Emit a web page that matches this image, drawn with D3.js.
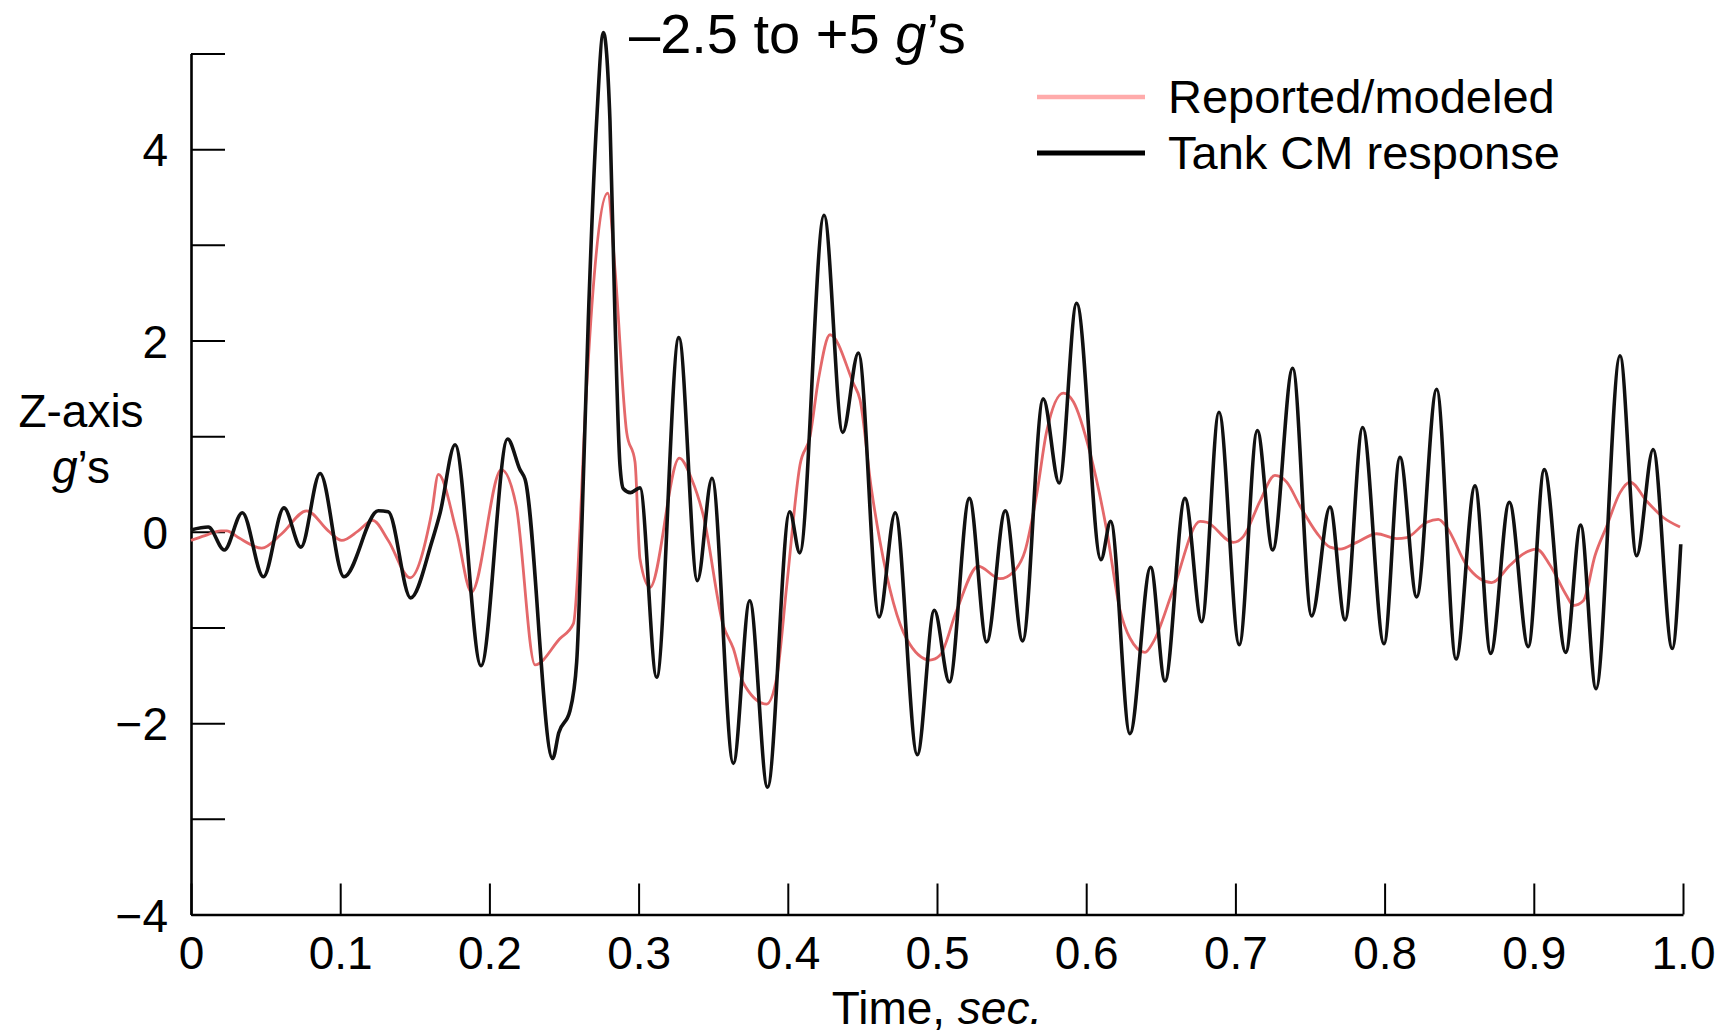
<!DOCTYPE html>
<html>
<head>
<meta charset="utf-8">
<script src="https://cdn.jsdelivr.net/npm/d3@7"></script>
<style>
  html, body { margin: 0; padding: 0; background: #fff; }
  svg { display: block; }
  text { font-family: "Liberation Sans", Arial, Helvetica, sans-serif; fill: #000; }
</style>
</head>
<body>
<svg id="chart" width="1731" height="1036"></svg>
<script>
// Reported/modeled Z-axis acceleration (time in s, value in g)
const modelTime = [0.000, 0.0094, 0.020, 0.024, 0.0317, 0.0474, 0.0608, 0.0775, 0.092, 0.101,
  0.1121, 0.1218, 0.1322, 0.1468, 0.1613, 0.1658, 0.178, 0.188, 0.208, 0.218,
  0.2306, 0.247, 0.2563, 0.2652, 0.269, 0.2793, 0.2842, 0.292, 0.2976, 0.3009,
  0.3076, 0.3273, 0.3356, 0.3434, 0.3568, 0.3635, 0.3702, 0.3858, 0.3926, 0.3993,
  0.4082, 0.4149, 0.4205, 0.4283, 0.4440, 0.4484, 0.456, 0.4618, 0.4797, 0.4953,
  0.502, 0.5132, 0.5277, 0.5422, 0.5512, 0.559, 0.5668, 0.5735, 0.5847, 0.5914,
  0.6025, 0.6137, 0.6227, 0.6293, 0.6394, 0.645, 0.6584, 0.6763, 0.6808, 0.6986,
  0.7053, 0.7165, 0.7265, 0.7344, 0.7433, 0.7545, 0.7634, 0.7701, 0.7813, 0.7947,
  0.8081, 0.8148, 0.8282, 0.836, 0.8416, 0.855, 0.8639, 0.8718, 0.884, 0.893,
  0.9019, 0.9109, 0.9221, 0.9265, 0.9332, 0.941, 0.9489, 0.9578, 0.9645, 0.9757,
  0.9868, 0.998];
const modelG = [-0.09, -0.04, 0.01, 0.01, -0.06, -0.17, -0.02, 0.22, 0.01, -0.09,
  0.01, 0.12, -0.09, -0.48, 0.20, 0.60, 0.00, -0.63, 0.65, 0.27,
  -1.39, -1.12, -0.96, 1.52, 2.43, 3.54, 2.74, 1.04, 0.73, -0.28,
  -0.58, 0.77, 0.55, 0.17, -0.98, -1.22, -1.58, -1.80, -1.52, -0.56,
  0.70, 1.00, 1.59, 2.06, 1.55, 1.38, 0.45, -0.10, -1.12, -1.34,
  -1.29, -0.82, -0.36, -0.49, -0.42, -0.20, 0.39, 1.05, 1.45, 1.36,
  0.83, 0.02, -0.82, -1.11, -1.26, -1.15, -0.60, 0.11, 0.10, -0.11,
  -0.05, 0.32, 0.59, 0.52, 0.27, -0.01, -0.16, -0.18, -0.11, -0.02,
  -0.07, -0.06, 0.10, 0.13, 0.05, -0.35, -0.49, -0.53, -0.35, -0.23,
  -0.18, -0.35, -0.67, -0.77, -0.72, -0.25, 0.06, 0.41, 0.52, 0.32,
  0.15, 0.05];

// Tank centre-of-mass response (time in s, value in g)
const tankTime = [0.000, 0.0116, 0.0223, 0.0344, 0.0485, 0.0623, 0.0737, 0.0865, 0.1025, 0.1255,
  0.1322, 0.1472, 0.1613, 0.167, 0.177, 0.1944, 0.2122, 0.2205, 0.2239, 0.2424,
  0.2465, 0.254, 0.2585, 0.2619, 0.2663, 0.2719, 0.2764, 0.2808, 0.2842, 0.2875,
  0.2898, 0.2945, 0.3009, 0.3121, 0.3270, 0.3394, 0.3492, 0.3635, 0.3745, 0.3864,
  0.4013, 0.408, 0.4243, 0.4368, 0.4473, 0.4612, 0.4720, 0.4868, 0.4982, 0.5083,
  0.5217, 0.5333, 0.5458, 0.5574, 0.5712, 0.5819, 0.5936, 0.6099, 0.6164, 0.6293,
  0.6432, 0.6528, 0.6662, 0.6774, 0.6890, 0.7026, 0.7147, 0.7250, 0.7384, 0.7511,
  0.7634, 0.7735, 0.7853, 0.7996, 0.8103, 0.8215, 0.8349, 0.8479, 0.8606, 0.8711,
  0.8836, 0.8963, 0.9070, 0.9214, 0.9314, 0.9417, 0.9578, 0.9689, 0.9800, 0.9928,
  0.9985];
const tankG = [0.02, 0.05, -0.19, 0.20, -0.47, 0.25, -0.16, 0.61, -0.47, 0.22,
  0.21, -0.69, -0.11, 0.20, 0.91, -1.40, 0.97, 0.65, 0.55, -2.37,
  -2.10, -1.87, -1.36, 0.03, 2.22, 4.30, 5.22, 4.30, 2.22, 0.70,
  0.45, 0.41, 0.46, -1.52, 2.03, -0.51, 0.56, -2.42, -0.72, -2.67,
  0.21, -0.22, 3.31, 1.04, 1.87, -0.89, 0.20, -2.33, -0.82, -1.57,
  0.35, -1.15, 0.22, -1.14, 1.39, 0.51, 2.39, -0.29, 0.11, -2.11,
  -0.37, -1.56, 0.35, -0.94, 1.25, -1.18, 1.06, -0.19, 1.71, -0.88,
  0.26, -0.92, 1.09, -1.17, 0.78, -0.68, 1.49, -1.33, 0.48, -1.27,
  0.31, -1.20, 0.65, -1.26, 0.07, -1.64, 1.84, -0.25, 0.86, -1.22,
  -0.13];

// Axis ticks and labels
const xTicks = [0, 0.1, 0.2, 0.3, 0.4, 0.5, 0.6, 0.7, 0.8, 0.9, 1.0];
const xTickLabels = ["0", "0.1", "0.2", "0.3", "0.4", "0.5", "0.6", "0.7", "0.8", "0.9", "1.0"];
const yTicks = [-4, -3, -2, -1, 0, 1, 2, 3, 4, 5];
const yTickLabels = ["\u22124", "", "\u22122", "", "0", "", "2", "", "4", ""];

const seriesNames = ["Reported/modeled", "Tank CM response"];
const seriesColors = ["#e4686a", "#111111"];
const legendColors = ["#ffabab", "#000000"];

const svg = d3.select("#chart");
const FONT = 46;

const x = d3.scaleLinear().domain([0, 1]).range([191, 1683]);
const y = d3.scaleLinear().domain([-4, 5]).range([914.5, 53.5]);

// Y axis: ticks point into the plot, labels on the even values only
const yAxis = d3.axisLeft(y)
  .tickValues(yTicks)
  .tickFormat((d, i) => yTickLabels[i])
  .tickSizeInner(-34)
  .tickSizeOuter(0)
  .tickPadding(23);
const gy = svg.append("g").attr("transform", `translate(${x(0)},0)`).call(yAxis);
gy.select(".domain").attr("stroke", "#000").attr("stroke-width", 2.6);
gy.selectAll(".tick line").attr("stroke", "#000").attr("stroke-width", 2);
gy.selectAll(".tick text").attr("font-size", FONT).attr("font-family", null).attr("dy", "0.36em");

// X axis: ticks point up into the plot
const xAxis = d3.axisBottom(x)
  .tickValues(xTicks)
  .tickFormat((d, i) => xTickLabels[i])
  .tickSizeInner(-31)
  .tickSizeOuter(0)
  .tickPadding(22);
const gx = svg.append("g").attr("transform", `translate(0,${y(-4)})`).call(xAxis);
gx.select(".domain").attr("stroke", "#000").attr("stroke-width", 2.6);
gx.selectAll(".tick line").attr("stroke", "#000").attr("stroke-width", 2);
gx.selectAll(".tick text").attr("font-size", FONT).attr("font-family", null);

// Curves
const line = d3.line()
  .x(d => x(d[0]))
  .y(d => y(d[1]))
  .curve(d3.curveMonotoneX);

const modelPts = modelTime.map((t, i) => [t, modelG[i]]);
const tankPts = tankTime.map((t, i) => [t, tankG[i]]);

svg.append("path")
  .datum(modelPts)
  .attr("d", line)
  .attr("fill", "none")
  .attr("stroke", seriesColors[0])
  .attr("stroke-width", 2.8)
  .attr("stroke-linejoin", "round");

svg.append("path")
  .datum(tankPts)
  .attr("d", line)
  .attr("fill", "none")
  .attr("stroke", seriesColors[1])
  .attr("stroke-width", 3.6)
  .attr("stroke-linejoin", "round");

// Axis titles
const yTitle = svg.append("text")
  .attr("x", 81)
  .attr("text-anchor", "middle")
  .attr("font-size", FONT);
yTitle.append("tspan").attr("x", 81).attr("y", 427).text("Z-axis");
const gLine = yTitle.append("tspan").attr("x", 81).attr("y", 483);
gLine.append("tspan").attr("font-style", "italic").text("g");
gLine.append("tspan").text("\u2019s");

const xTitle = svg.append("text")
  .attr("x", x(0.5))
  .attr("y", 1024)
  .attr("text-anchor", "middle")
  .attr("font-size", FONT);
xTitle.append("tspan").text("Time, ");
xTitle.append("tspan").attr("font-style", "italic").text("sec.");

// Range annotation at the top
const note = svg.append("text")
  .attr("x", 629)
  .attr("y", 53)
  .attr("font-size", 56);
note.append("tspan").text("\u20132.5 to +5 ");
note.append("tspan").attr("font-style", "italic").text("g");
note.append("tspan").text("\u2019s");

// Legend
const legend = svg.append("g");
const legendY = [97, 153];
seriesNames.forEach((name, i) => {
  legend.append("line")
    .attr("x1", 1037).attr("x2", 1145)
    .attr("y1", legendY[i]).attr("y2", legendY[i])
    .attr("stroke", legendColors[i])
    .attr("stroke-width", i === 0 ? 4.3 : 5);
  legend.append("text")
    .attr("x", 1168)
    .attr("y", legendY[i] + 16)
    .attr("font-size", 47)
    .text(name);
});
</script>
</body>
</html>
